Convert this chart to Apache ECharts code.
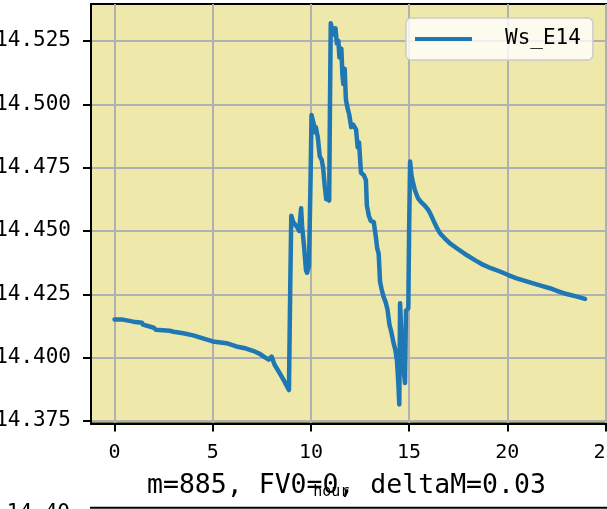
<!DOCTYPE html>
<html>
<head>
<meta charset="utf-8">
<script src="https://cdn.jsdelivr.net/npm/echarts@6/dist/echarts.min.js"></script>
<style>html,body{margin:0;padding:0;background:#fff;}#c{width:607px;height:509px;}</style>
</head>
<body>
<div id="c"></div>
<script>
const seriesName = 'Ws_E14';
const xTickValues = [0, 5, 10, 15, 20, 25];
const yTickValues = [14.375, 14.400, 14.425, 14.450, 14.475, 14.500, 14.525];
const titleText = 'm=885, FV0=0, deltaM=0.03';
const xName = 'hour';
const nextPanelTick = '14.40';

const hours = [
  0.00, 0.35, 0.40, 0.95, 1.00, 1.40, 1.45, 2.00, 2.10, 2.80,
  3.00, 3.50, 4.00, 4.50, 5.00, 5.70, 6.20, 6.70, 7.05, 7.40,
  7.60, 7.85, 8.00, 8.05, 8.15, 8.40, 8.65, 8.88, 8.95, 9.00,
  9.10, 9.20, 9.30, 9.40, 9.50, 9.55, 9.65, 9.75, 9.80, 9.90,
  9.98, 10.03, 10.15, 10.20, 10.25, 10.35, 10.45, 10.55, 10.62, 10.70,
  10.78, 10.85, 10.93, 10.97, 11.01, 11.10, 11.20, 11.25, 11.32, 11.40,
  11.45, 11.55, 11.60, 11.65, 11.72, 11.78, 11.85, 11.95, 12.05, 12.15,
  12.30, 12.38, 12.45, 12.55, 12.70, 12.80, 12.85, 12.95, 13.05, 13.20,
  13.30, 13.38, 13.45, 13.52, 13.60, 13.70, 13.80, 13.90, 14.00, 14.10,
  14.20, 14.30, 14.38, 14.45, 14.50, 14.54, 14.60, 14.67, 14.75, 14.79,
  14.84, 14.96, 15.00, 15.05, 15.12, 15.20, 15.30, 15.45, 15.60, 15.80,
  15.98, 16.10, 16.23, 16.40, 16.57, 16.80, 17.08, 17.50, 17.93, 18.35,
  18.78, 19.20, 19.63, 20.05, 20.48, 20.90, 21.32, 21.75, 22.17, 22.60,
  23.02, 23.50, 23.96
];
const ws = [
  14.4151, 14.4151, 14.4145, 14.4142, 14.4138, 14.4138, 14.4130, 14.4118, 14.4110, 14.4106,
  14.4102, 14.4096, 14.4088, 14.4076, 14.4064, 14.4057, 14.4044, 14.4036, 14.4027, 14.4015,
  14.4004, 14.3992, 14.4004, 14.4008, 14.3972, 14.3940, 14.3906, 14.3872, 14.4300, 14.4560,
  14.4535, 14.4528, 14.4515, 14.4500, 14.4590, 14.4520, 14.4440, 14.4345, 14.4335, 14.4360,
  14.4700, 14.4958, 14.4920, 14.4890, 14.4910, 14.4870, 14.4795, 14.4780, 14.4750, 14.4680,
  14.4625, 14.4640, 14.4620, 14.5000, 14.5320, 14.5290, 14.5275, 14.5300, 14.5240, 14.5250,
  14.5185, 14.5220, 14.5120, 14.5080, 14.5140, 14.5020, 14.4990, 14.4960, 14.4910, 14.4920,
  14.4900, 14.4830, 14.4850, 14.4730, 14.4720, 14.4700, 14.4600, 14.4560, 14.4540, 14.4535,
  14.4480, 14.4430, 14.4410, 14.4300, 14.4270, 14.4240, 14.4220, 14.4190, 14.4130, 14.4100,
  14.4060, 14.4030, 14.3990, 14.3900, 14.3815, 14.4215, 14.4100, 14.4030, 14.3930, 14.3900,
  14.4185, 14.4195, 14.4500, 14.4774, 14.4720, 14.4690, 14.4660, 14.4630, 14.4615, 14.4600,
  14.4583, 14.4565, 14.4543, 14.4515, 14.4491, 14.4472, 14.4451, 14.4428, 14.4405, 14.4385,
  14.4366, 14.4352, 14.4340, 14.4326, 14.4313, 14.4303, 14.4293, 14.4283, 14.4274, 14.4262,
  14.4251, 14.4242, 14.4232
];

const FONT = '"DejaVu Sans Mono", monospace';
const chart = echarts.init(document.getElementById('c'), null, {renderer: 'canvas'});
chart.setOption({
  animation: false,
  backgroundColor: '#ffffff',
  grid: {
    left: 91, top: 4, width: 518.4, height: 419.5,
    outerBoundsMode: 'none',
    show: true, backgroundColor: '#EEE8AA', borderColor: '#000', borderWidth: 2,
    containLabel: false
  },
  legend: {
    show: true,
    data: [seriesName],
    left: 406, top: 18,
    padding: [10, 12, 10, 9],
    backgroundColor: 'rgba(255,255,255,0.8)',
    borderColor: '#cccccc', borderWidth: 1.5, borderRadius: 5,
    icon: 'rect',
    itemWidth: 57, itemHeight: 4,
    itemStyle: {color: '#1f77b4'},
    textStyle: {fontFamily: FONT, fontSize: 21, color: '#000', padding: [0, 0, 0, 28], lineHeight: 22}
  },
  xAxis: {
    type: 'value', min: -1.2, max: 25.2,
    name: xName, nameLocation: 'middle', nameGap: 61,
    nameTextStyle: {fontFamily: FONT, fontSize: 15, color: '#000', padding: [0, 38, 0, 0]},
    axisLine: {show: true, onZero: false, lineStyle: {color: '#000', width: 2}},
    axisTick: {show: true, length: 8, lineStyle: {color: '#000', width: 2}, customValues: xTickValues},
    axisLabel: {fontFamily: FONT, fontSize: 20, color: '#000', margin: 19, customValues: xTickValues, formatter: v => String(v)},
    splitLine: {show: true, lineStyle: {color: '#b0b0b0', width: 2}}
  },
  yAxis: {
    type: 'value', min: 14.374, max: 14.5396,
    axisLine: {show: true, onZero: false, lineStyle: {color: '#000', width: 2}},
    axisTick: {show: true, length: 8, lineStyle: {color: '#000', width: 2}, customValues: yTickValues},
    axisLabel: {fontFamily: FONT, fontSize: 21, color: '#000', margin: 20, customValues: yTickValues, formatter: v => v.toFixed(3)},
    splitLine: {show: true, lineStyle: {color: '#b0b0b0', width: 2}}
  },
  series: [{
    name: seriesName, type: 'line',
    data: hours.map((h, i) => [h, ws[i]]),
    symbol: 'none', showSymbol: false,
    lineStyle: {color: '#1f77b4', width: 4.5, join: 'round', cap: 'round'},
    itemStyle: {color: '#1f77b4'},
    clip: true, z: 3
  }],
  graphic: [
    {type: 'text', left: 147, top: 473, z: 10,
     style: {text: titleText, font: '26.5px ' + FONT, fill: '#000'}},
    {type: 'line', z: 10, shape: {x1: 90, y1: 507.7, x2: 607, y2: 507.7}, style: {stroke: '#000', lineWidth: 2}},
    {type: 'text', z: 10, style: {text: nextPanelTick, x: 70, y: 503.5, align: 'right', verticalAlign: 'top', font: '21px ' + FONT, fill: '#000'}}
  ]
});
</script>
</body>
</html>
